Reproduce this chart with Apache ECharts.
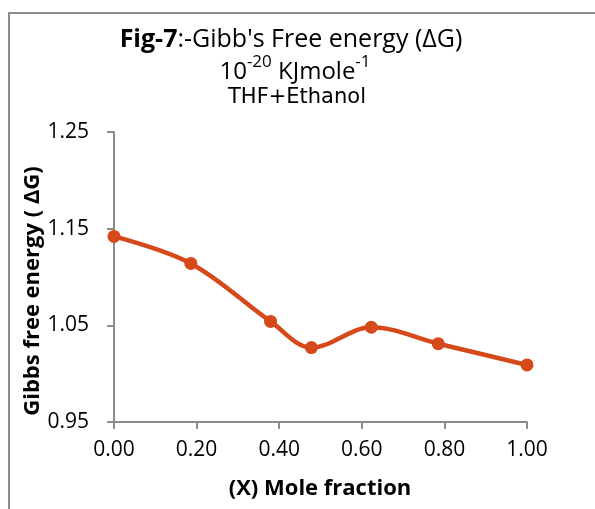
<!DOCTYPE html>
<html>
<head>
<meta charset="utf-8">
<script src="https://cdn.jsdelivr.net/npm/echarts@6/dist/echarts.min.js"></script>
<style>
  html, body { margin: 0; padding: 0; background: #fff; }
  #chart { width: 595px; height: 509px; }
</style>
</head>
<body>
<div id="chart"></div>
<script>
// Mole fraction of THF and the corresponding Gibbs free energy values
const moleFraction = [0.000, 0.186, 0.379, 0.478, 0.623, 0.785, 1.000];
const gibbsEnergy = [1.142, 1.114, 1.054, 1.027, 1.048, 1.031, 1.009];
const xTicks = [0, 0.2, 0.4, 0.6, 0.8, 1.0];
const yTicks = [0.95, 1.05, 1.15, 1.25];

const FONT = '"Open Sans", "Liberation Sans", sans-serif';
const AXIS_GREY = '#8c8c8c';
const LINE_COLOR = '#d5491a';

const chart = echarts.init(document.getElementById('chart'), null, { renderer: 'canvas' });

chart.setOption({
  animation: false,
  backgroundColor: '#ffffff',
  grid: { left: 114, right: 68, top: 132, bottom: 87, containLabel: false },
  xAxis: {
    type: 'value',
    min: 0,
    max: 1,
    interval: 0.2,
    axisLine: { show: true, lineStyle: { color: AXIS_GREY, width: 2 } },
    axisTick: { show: true, length: 7, lineStyle: { color: AXIS_GREY, width: 2 } },
    splitLine: { show: false },
    axisLabel: {
      color: '#000', fontFamily: FONT, fontSize: 21, margin: 18,
      formatter: v => v.toFixed(2)
    }
  },
  yAxis: {
    type: 'value',
    min: 0.95,
    max: 1.25,
    axisLine: { show: true, lineStyle: { color: AXIS_GREY, width: 2 } },
    axisTick: { show: true, length: 7, customValues: yTicks, lineStyle: { color: AXIS_GREY, width: 2 } },
    splitLine: { show: false },
    axisLabel: {
      color: '#000', fontFamily: FONT, fontSize: 21, margin: 25,
      customValues: yTicks,
      formatter: v => v.toFixed(2)
    }
  },
  series: [{
    type: 'line',
    smooth: 0.35,
    data: moleFraction.map((x, i) => [x, gibbsEnergy[i]]),
    symbol: 'circle',
    symbolSize: 13,
    lineStyle: { color: LINE_COLOR, width: 4.5 },
    itemStyle: { color: LINE_COLOR },
    z: 5
  }],
  graphic: [
    // outer frame, open toward the right and bottom edges
    {
      type: 'polyline',
      shape: { points: [[9, 520], [9, 13], [600, 13]] },
      style: { stroke: '#8c8c8c', lineWidth: 2, fill: null },
      silent: true
    },
    {
      type: 'text',
      x: 291, y: 40,
      style: {
        text: '{b|Fig-7}{n|:-Gibb\'s Free energy (ΔG)}',
        align: 'center', verticalAlign: 'middle',
        rich: {
          b: { fontFamily: FONT, fontSize: 25, fontWeight: 'bold', fill: '#000' },
          n: { fontFamily: FONT, fontSize: 25, fill: '#000' }
        }
      }
    },
    {
      type: 'text',
      x: 295, y: 69,
      style: {
        text: '{n|10}{s|-20}{n| KJmole}{s|-1}',
        align: 'center', verticalAlign: 'middle',
        rich: {
          n: { fontFamily: FONT, fontSize: 24, fill: '#000', verticalAlign: 'bottom', lineHeight: 30 },
          s: { fontFamily: FONT, fontSize: 17, fill: '#000', verticalAlign: 'top', lineHeight: 30 }
        }
      }
    },
    {
      type: 'text',
      x: 297, y: 98,
      style: {
        text: 'THF+Ethanol',
        align: 'center', verticalAlign: 'middle',
        fontFamily: '"DejaVu Sans", sans-serif', fontSize: 21, fill: '#000'
      }
    },
    {
      type: 'text',
      x: 33, y: 291,
      rotation: Math.PI / 2,
      style: {
        text: 'Gibbs free energy ( ΔG)',
        align: 'center', verticalAlign: 'middle',
        fontFamily: FONT, fontSize: 22, fontWeight: 'bold', fill: '#000'
      }
    },
    {
      type: 'text',
      x: 320, y: 489,
      style: {
        text: '(X) Mole fraction',
        align: 'center', verticalAlign: 'middle',
        fontFamily: FONT, fontSize: 22, fontWeight: 'bold', fill: '#000'
      }
    }
  ]
});
</script>
</body>
</html>
